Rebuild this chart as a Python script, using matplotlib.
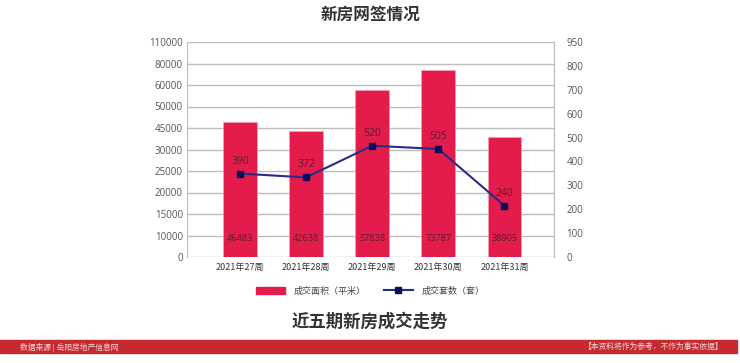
"""New-home contract signing chart (five recent weeks)."""

import matplotlib

matplotlib.use("Agg")
import matplotlib.pyplot as plt
import matplotlib.patches as mpatches
from matplotlib.lines import Line2D
import numpy as np

plt.rcParams["font.family"] = ["Noto Sans CJK SC", "DejaVu Sans"]
NUM_FONT = ["Open Sans", "DejaVu Sans"]

weeks = ["2021年27周", "2021年28周", "2021年29周", "2021年30周", "2021年31周"]
area = [46483, 42638, 57838, 73787, 38905]
units = [390, 372, 520, 505, 240]

left_ticks = [0, 10000, 15000, 20000, 25000, 30000, 45000, 50000, 60000, 80000, 110000]
right_tick_labels = ["0", "100", "200", "300", "400", "500", "600", "700", "800", "950"]

title = "新房网签情况"
subtitle = "近五期新房成交走势"
source = "数据来源 | 岳阳房地产信息网"
note = "【本资料将作为参考，不作为事实依据】"
area_label = "成交面积（平米）"
units_label = "成交套数（套）"

BAR = "#e31c4b"
LINE = "#2a2a8a"
MARK = "#0b0b5c"
VAL = "#5a1f2a"
GRID = "#bdbdbd"
TXT = "#555555"

# the area axis is labelled with uneven steps, so map the labels to even slots
slots = np.arange(len(left_ticks), dtype=float)


def fwd(v):
    return np.interp(v, left_ticks, slots)


def inv(p):
    return np.interp(p, slots, left_ticks)


fig = plt.figure(figsize=(7.4, 3.63), dpi=100)
ax = fig.add_axes([187 / 740, 1 - 257 / 363, (554 - 187) / 740, 215 / 363])
ax.set_yscale("function", functions=(fwd, inv))
ax.set_ylim(0, 110000)

x = np.arange(len(weeks))
ax.bar(x, area, width=0.51, color=BAR, edgecolor="#f3a0b4", linewidth=0.5, zorder=2)
for xi, v in zip(x, area):
    ax.text(xi, 0.084, str(v), transform=ax.get_xaxis_transform(),
            ha="center", va="center", fontsize=6.6, color=VAL, zorder=4,
            family=NUM_FONT)

ax.set_xlim(-0.8, 4.75)
ax.set_xticks(x)
ax.set_xticklabels(weeks, fontsize=6.5, color="#333333")
ax.set_yticks(left_ticks)
ax.set_yticklabels([str(t) for t in left_ticks], fontsize=7, color=TXT,
                   family=NUM_FONT)
ax.tick_params(axis="both", length=0)
ax.tick_params(axis="y", pad=3)
ax.tick_params(axis="x", pad=4)
ax.yaxis.grid(True, color=GRID, linewidth=1)
ax.set_axisbelow(True)
for side in ("top", "bottom"):
    ax.spines[side].set_visible(False)
for side in ("left", "right"):
    ax.spines[side].set_color(GRID)

ax2 = ax.twinx()
ax2.set_ylim(0, 1005)
ax2.plot(x, units, color=LINE, linewidth=1.5, marker="s", markersize=5,
         markerfacecolor=MARK, markeredgecolor=MARK, zorder=5)
for xi, v in zip(x, units):
    ax2.annotate(str(v), (xi, v), xytext=(0, 5), textcoords="offset points",
                 ha="center", va="bottom", fontsize=7.5, color=VAL,
                 family=NUM_FONT)
ax2.set_yticks(np.linspace(0, 1005, len(right_tick_labels)))
ax2.set_yticklabels(right_tick_labels, fontsize=7, color=TXT, family=NUM_FONT)
ax2.tick_params(axis="y", length=0, pad=9)
for side in ("top", "bottom", "left"):
    ax2.spines[side].set_visible(False)
ax2.spines["right"].set_color(GRID)

handles = [
    mpatches.Patch(color=BAR),
    Line2D([], [], color=LINE, linewidth=1.5, marker="s", markersize=5,
           markerfacecolor=MARK, markeredgecolor=MARK),
]
fig.legend(handles, [area_label, units_label], loc="center",
           bbox_to_anchor=(0.5, 1 - 291 / 363), ncol=2, frameon=False,
           fontsize=6.5, handlelength=3.3, handletextpad=0.9, columnspacing=2.0,
           labelcolor="#444444")

fig.text(0.5, 1 - 15 / 363, title, ha="center", va="center",
         fontsize=12, fontweight="bold", color="#333333")
fig.text(0.5, 1 - 322 / 363, subtitle, ha="center", va="center",
         fontsize=12.5, fontweight="bold", color="#333333")

band = mpatches.Rectangle((0, 1 - 353 / 363), 737 / 740, 13 / 363,
                          transform=fig.transFigure, color="#c62a30", zorder=0)
fig.patches.append(band)
fig.text(20 / 740, 1 - 347 / 363, source, ha="left", va="center",
         fontsize=5.6, color="#f4dada")
fig.text(723 / 740, 1 - 347 / 363, note, ha="right", va="center",
         fontsize=5.6, color="#f4dada")

fig.savefig("out.png", dpi=100)
plt.close(fig)
